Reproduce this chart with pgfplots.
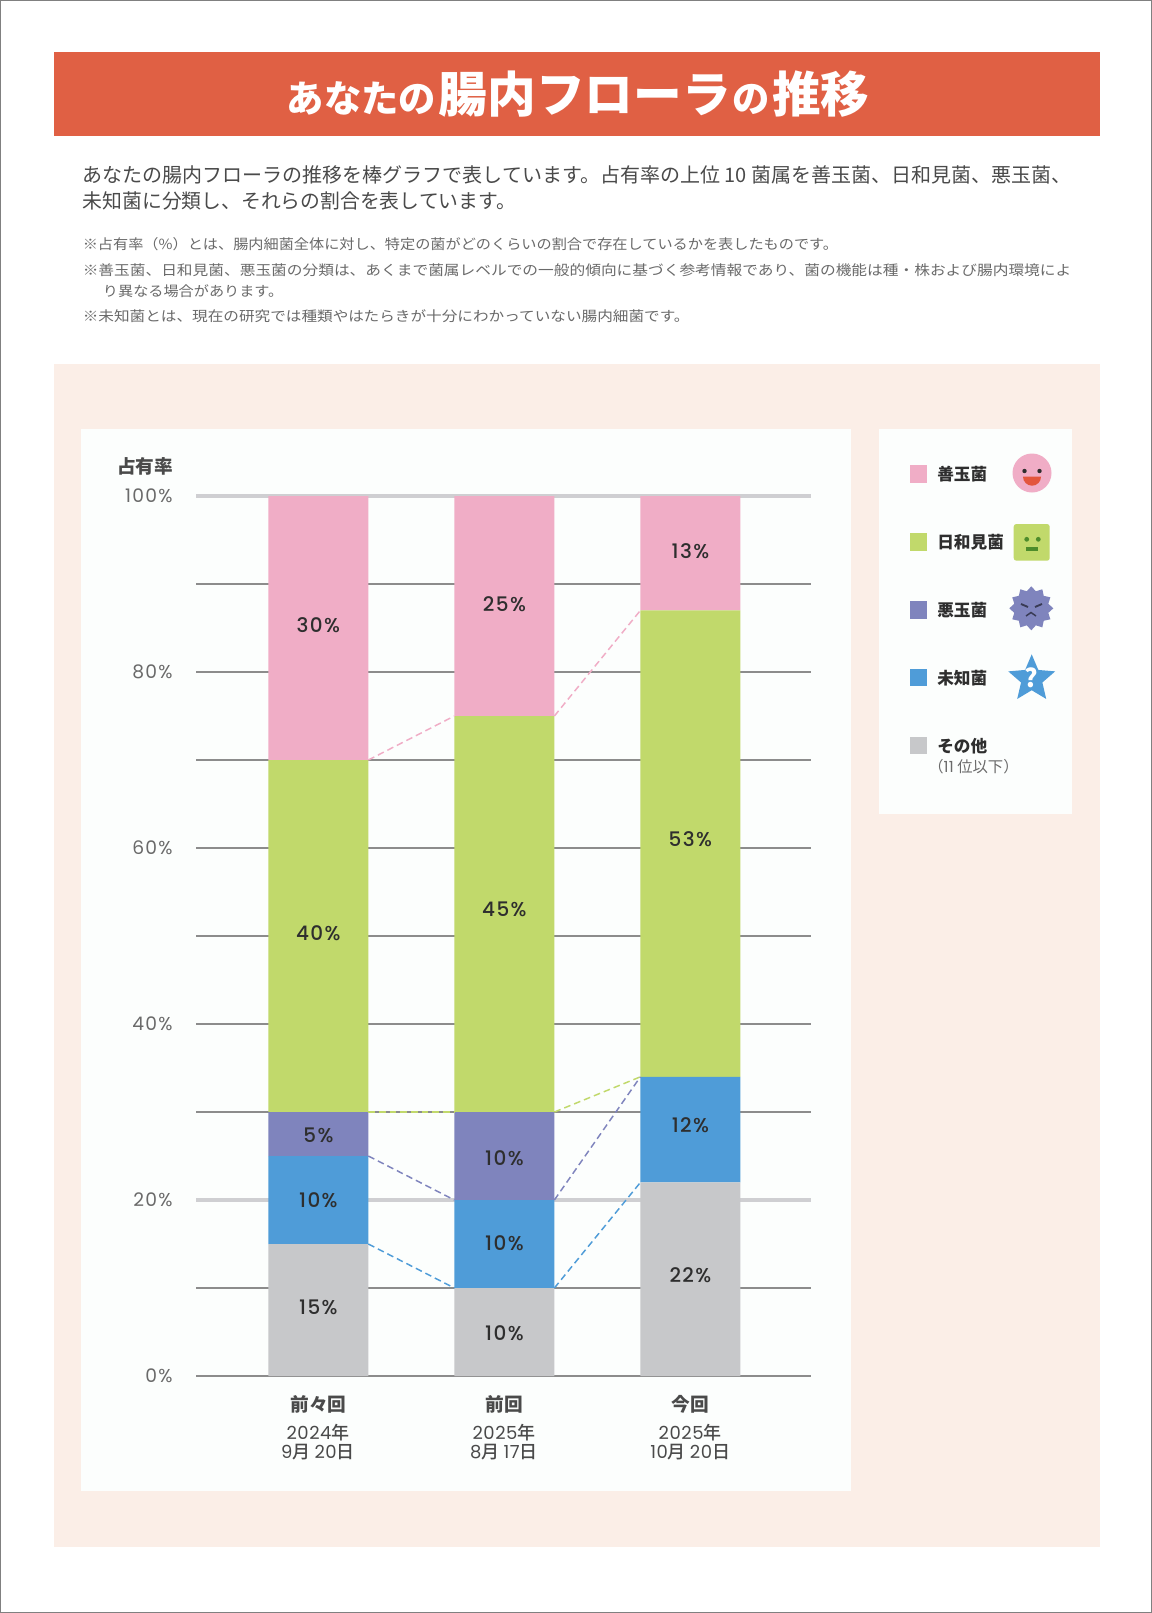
\documentclass[border=0pt]{standalone}
\usepackage{graphicx}
\usepackage{fontspec}
\usepackage{pgfplots}
\pgfplotsset{compat=1.18}
\usetikzlibrary{shapes.geometric}
\setmainfont{Noto Sans CJK JP}
\newfontfamily\med{Noto Sans CJK JP Medium}
\newfontfamily\pop{Poppins}[LetterSpace=3]
\newfontfamily\popt{Poppins}[LetterSpace=7]
\newfontfamily\popm{Poppins Medium}[LetterSpace=7]
\newcommand\fs[1]{\fontsize{#1}{#1}\selectfont}
\definecolor{title}{HTML}{E06044}
\definecolor{peach}{HTML}{FBEEE7}
\definecolor{panel}{HTML}{FCFEFD}
\definecolor{cgood}{HTML}{F0ADC6}
\definecolor{cmid}{HTML}{C1D96B}
\definecolor{cbad}{HTML}{7F84BD}
\definecolor{cunk}{HTML}{4F9CD8}
\definecolor{coth}{HTML}{C7C8CA}
\definecolor{txt}{HTML}{4A4A4A}
\definecolor{note}{HTML}{6A6A6A}
\definecolor{dark}{HTML}{2E2E2E}
\definecolor{gridd}{HTML}{8C8C8C}
\definecolor{gridl}{HTML}{CFCFD2}
\newcommand\fitlineA[5]{\node[anchor=base west,inner sep=0pt,text=#4] at (#1,#2) {\resizebox{#3}{\height}{\mbox{#5}}};}
\begin{document}
\begin{tikzpicture}
\begin{scope}[x=0.75pt,y=-0.75pt]
\useasboundingbox (0,0) rectangle (1152,1613);
\fill[white] (0,0) rectangle (1152,1613);
\draw[gray,line width=0.75pt] (0.5,0.5) rectangle (1151.5,1612.5);
\fill[title] (53.5,52) rectangle (1100,135.5);
\node[text=white,inner sep=0pt,anchor=base] at (578,112) {\bfseries\fs{28}あなたの\hspace{2pt}\fs{36.5}腸内フローラ\fs{28}\hspace{1pt}の\hspace{2pt}\fs{36.5}推移};
\fitlineA{82.5}{182}{741.4pt}{txt}{\fs{15}あなたの腸内フローラの推移を棒グラフで表しています。占有率の上位 10 菌属を善玉菌、日和見菌、悪玉菌、}
\fitlineA{82.5}{208}{325pt}{txt}{\fs{15}未知菌に分類し、それらの割合を表しています。}
\fitlineA{82.5}{249}{566.4pt}{note}{\fs{10.5}※占有率（\%）とは、腸内細菌全体に対し、特定の菌がどのくらいの割合で存在しているかを表したものです。}
\fitlineA{82.5}{275}{741.4pt}{note}{\fs{10.5}※善玉菌、日和見菌、悪玉菌の分類は、あくまで菌属レベルでの一般的傾向に基づく参考情報であり、菌の機能は種・株および腸内環境によ}
\fitlineA{102.7}{296}{135.2pt}{note}{\fs{10.5}り異なる場合があります。}
\fitlineA{82.5}{321}{455pt}{note}{\fs{10.5}※未知菌とは、現在の研究では種類やはたらきが十分にわかっていない腸内細菌です。}
\fill[peach] (53.5,364) rectangle (1100,1546.7);
\fill[panel] (81,428.5) rectangle (851,1491);
\fill[panel] (878.8,428.5) rectangle (1072.3,814.3);
\node[anchor=west,inner sep=0pt,text=txt] at (117,466) {\bfseries\fs{14}占有率};
\end{scope}
\begin{axis}[
  at={(147.0pt,-1032pt)},anchor=south west,scale only axis,
  width=461.25pt,height=660pt,
  xmin=-0.6578,xmax=2.6483,ymin=0,ymax=100,
  clip=false,
  ybar stacked,bar width=75pt,
  axis line style={draw=none},
  tick style={draw=none},
  major tick length=0pt,minor tick length=0pt,
  xtick={0,1,2},
  xticklabels={前々回,前回,今回},
  xticklabel style={font=\bfseries\fs{14},text=txt,anchor=center,yshift=-21.5pt},
  ytick={0,40,60,80},
  yticklabels={0\%,40\%,60\%,80\%},
  minor ytick={10,30,50,70,90},
  ymajorgrids,yminorgrids,
  major grid style={draw=gridd,line width=0.8pt},
  minor grid style={draw=gridd,line width=0.8pt},
  extra y ticks={20,100},
  extra y tick labels={20\%,100\%},
  extra y tick style={major grid style={draw=gridl,line width=2.4pt}},
  yticklabel style={font=\popt\fs{14},text=note,xshift=-14pt},
]
\addplot[fill=coth,draw=none] coordinates {(0,15) (1,10) (2,22)};
\addplot[fill=cunk,draw=none] coordinates {(0,10) (1,10) (2,12)};
\addplot[fill=cbad,draw=none] coordinates {(0,5) (1,10) (2,0)};
\addplot[fill=cmid,draw=none] coordinates {(0,40) (1,45) (2,53)};
\addplot[fill=cgood,draw=none] coordinates {(0,30) (1,25) (2,13)};
\end{axis}
\begin{axis}[
  at={(147.0pt,-1032pt)},anchor=south west,scale only axis,
  width=461.25pt,height=660pt,
  xmin=-0.6578,xmax=2.6483,ymin=0,ymax=100,
  clip=false,hide axis,
  dashline/.style={line width=1.1pt,dash pattern=on 5pt off 3pt},
]
\addplot[dashline,cgood] coordinates {(0.2687,70) (0.7313,75)};
\addplot[dashline,cgood] coordinates {(1.2687,75) (1.7313,87)};
\addplot[dashline,cmid] coordinates {(0.2687,30) (0.7313,30)};
\addplot[dashline,cmid] coordinates {(1.2687,30) (1.7313,34)};
\addplot[dashline,cbad] coordinates {(0.2687,25) (0.7313,20)};
\addplot[dashline,cbad] coordinates {(1.2687,20) (1.7313,34)};
\addplot[dashline,cunk] coordinates {(0.2687,15) (0.7313,10)};
\addplot[dashline,cunk] coordinates {(1.2687,10) (1.7313,22)};
\addplot[draw=none,mark=none,point meta=explicit symbolic,
  nodes near coords,
  every node near coord/.append style={font=\popm\fs{15},text=dark,inner sep=0pt,anchor=center}]
 coordinates {
  (0,7.8)[15\%] (0,20)[10\%] (0,27.4)[5\%] (0,50.3)[40\%] (0,85.3)[30\%]
  (1,4.9)[10\%] (1,15.1)[10\%] (1,24.8)[10\%] (1,53)[45\%] (1,87.7)[25\%]
  (2,11.5)[22\%] (2,28.5)[12\%] (2,61)[53\%] (2,93.7)[13\%]
 };
\end{axis}
\begin{scope}[x=0.75pt,y=-0.75pt]
\node[text=txt,inner sep=0pt,font=\med\fs{13.5}] at (318,1432.5) {{\pop 2024}年};
\node[text=txt,inner sep=0pt,font=\med\fs{13.5}] at (504,1432.5) {{\pop 2025}年};
\node[text=txt,inner sep=0pt,font=\med\fs{13.5}] at (690.2,1432.5) {{\pop 2025}年};
\node[text=txt,inner sep=0pt,font=\med\fs{13.5}] at (318,1452.5) {{\pop 9}月 {\pop 20}日};
\node[text=txt,inner sep=0pt,font=\med\fs{13.5}] at (504,1452.5) {{\pop 8}月 {\pop 17}日};
\node[text=txt,inner sep=0pt,font=\med\fs{13.5}] at (690.2,1452.5) {{\pop 10}月 {\pop 20}日};
% legend
\foreach \yy/\cc/\lab in {465/cgood/善玉菌,533/cmid/日和見菌,601/cbad/悪玉菌,668.7/cunk/未知菌,736.7/coth/その他}{
  \fill[\cc] (909.7,\yy) rectangle ++(17.3,17.5);
  \node[anchor=west,inner sep=0pt,text=dark] at (937,\yy+9) {\bfseries\fs{12.5}\lab};
}
\node[anchor=west,inner sep=0pt,text=note] at (928,767) {\fs{11.5}（{\pop 11} 位以下）};
% icons
\fill[cgood] (1032,473) circle (19.5);
\fill[dark] (1024.5,471) circle (2.2) (1039.5,471) circle (2.2);
\fill[title!90!red] (1023,476.7) -- (1041,476.7) arc[start angle=0,end angle=180,radius=9] -- cycle;
\fill[cmid,rounded corners=2pt] (1013.7,524) rectangle (1049.7,560.7);
\fill[green!35!black!60!cmid] (1026.7,539.3) circle (2.4) (1038.3,539.3) circle (2.4);
\fill[green!35!black!60!cmid] (1025.7,547.3) rectangle (1037.7,550.7);
\node[star,star points=12,star point ratio=1.25,fill=cbad,draw=none,inner sep=0pt,minimum size=33pt] at (1031.3,608.3) {};
\draw[black!55!cbad,line width=1.4pt] (1021,604) -- (1028,607) (1042,604) -- (1035,607);
\draw[black!55!cbad,line width=1.1pt] (1026,616) -- (1031,612.5) -- (1036,616);
\node[star,star points=5,star point ratio=2.2,fill=cunk,draw=none,inner sep=0pt,minimum size=37pt] at (1031.7,679) {};
\node[text=white,inner sep=0pt] at (1031.7,678) {\bfseries\fs{19}?};
\end{scope}
\end{tikzpicture}
\end{document}
